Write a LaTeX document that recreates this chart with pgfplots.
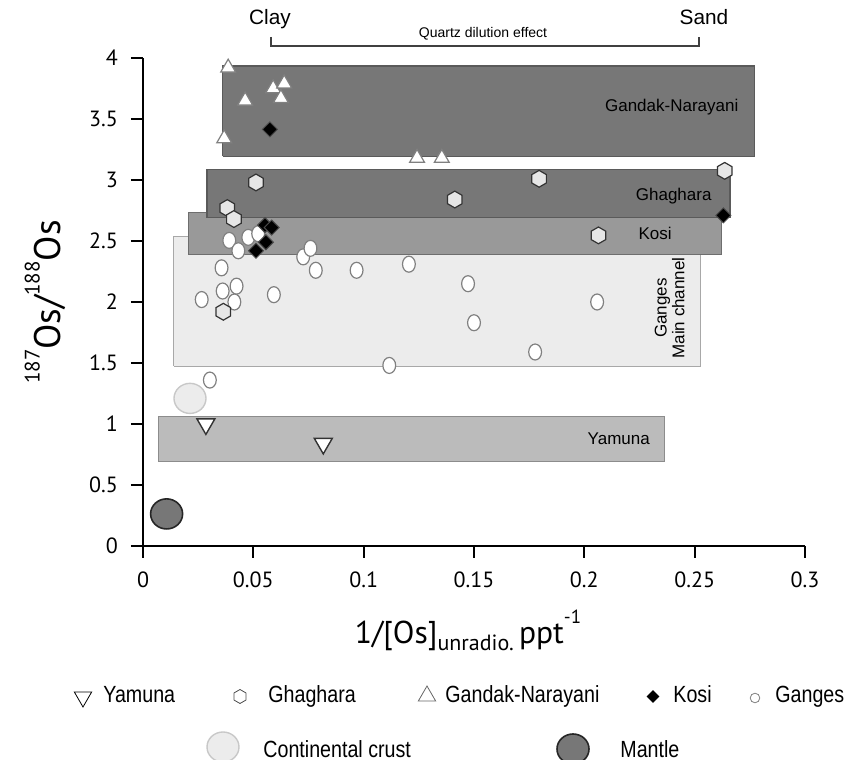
\documentclass[border=0pt]{standalone}
\usepackage{fontspec}
\setmainfont{Liberation Sans}
\newfontfamily\tickfont{PT Sans}
\newfontfamily\narrowfont[FakeStretch=0.84]{Liberation Sans}
\usepackage{pgfplots}
\pgfplotsset{compat=1.18}
\usetikzlibrary{shapes.geometric}

\definecolor{darkbox}{HTML}{777777}
\definecolor{darkedge}{HTML}{5A5A5A}
\definecolor{kosibox}{HTML}{999999}
\definecolor{kosiedge}{HTML}{6E6E6E}
\definecolor{gangesbox}{HTML}{ECECEC}
\definecolor{gangesedge}{HTML}{A8A8A8}
\definecolor{yamunabox}{HTML}{BBBBBB}
\definecolor{yamunaedge}{HTML}{8C8C8C}
\definecolor{hexfill}{HTML}{E6E6E6}
\definecolor{crustfill}{HTML}{ECECEC}
\definecolor{crustedge}{HTML}{C8C8C8}
\definecolor{mantlefill}{HTML}{777777}

\pgfdeclareplotmark{hexagon}{%
  \pgfpathmoveto{\pgfpointpolar{90}{\pgfplotmarksize}}%
  \pgfpathlineto{\pgfpointpolar{150}{\pgfplotmarksize}}%
  \pgfpathlineto{\pgfpointpolar{210}{\pgfplotmarksize}}%
  \pgfpathlineto{\pgfpointpolar{270}{\pgfplotmarksize}}%
  \pgfpathlineto{\pgfpointpolar{330}{\pgfplotmarksize}}%
  \pgfpathlineto{\pgfpointpolar{30}{\pgfplotmarksize}}%
  \pgfpathclose
  \pgfusepathqfillstroke}

\begin{document}
\begin{tikzpicture}
\path[use as bounding box] (-71.5pt,-107pt) rectangle (352pt,273pt);
\begin{axis}[
  at={(0pt,0pt)}, anchor=south west,
  scale only axis, width=331pt, height=244pt,
  xmin=0, xmax=0.3, ymin=0, ymax=4,
  axis lines=left, axis line style={-, line width=1pt, black},
  xtick={0,0.05,0.1,0.15,0.2,0.25,0.3},
  xticklabels={0,0.05,0.1,0.15,0.2,0.25,0.3},
  ytick={0,0.5,1,1.5,2,2.5,3,3.5,4},
  yticklabels={0,0.5,1,1.5,2,2.5,3,3.5,4},
  tick align=outside, major tick length=6pt,
  tick style={line width=1pt, black},
  ticklabel style={font=\tickfont\fontsize{11}{13}\selectfont},
  xticklabel style={yshift=-3.5pt},
  yticklabel style={xshift=-3pt},
  xlabel={1/[Os]\raisebox{-0.45ex}{\fontsize{11}{12}\selectfont unradio.}\,ppt\raisebox{1.25ex}{\fontsize{9.5}{10}\selectfont -1}},
  xlabel style={font=\tickfont\fontsize{15.8}{18}\selectfont, at={(axis description cs:0.491,-0.199)}, anchor=base},
  ylabel={\raisebox{1.1ex}{\fontsize{10.5}{12}\selectfont 187}Os/\raisebox{1.1ex}{\fontsize{10.5}{12}\selectfont 188}Os},
  ylabel style={font=\tickfont\fontsize{18.5}{20}\selectfont, at={(axis description cs:-0.148,0.5)}, anchor=center},
  clip=false,
]
% field boxes
\addplot[fill=gangesbox, draw=gangesedge, line width=0.6pt] coordinates {(0.014,1.473) (0.2527,1.473) (0.2527,2.535) (0.014,2.535) (0.014,1.473)};
\addplot[fill=yamunabox, draw=yamunaedge, line width=0.6pt] coordinates {(0.0072,0.691) (0.2364,0.691) (0.2364,1.062) (0.0072,1.062) (0.0072,0.691)};
\addplot[fill=kosibox, draw=kosiedge, line width=0.6pt] coordinates {(0.0208,2.387) (0.262,2.387) (0.262,2.733) (0.0208,2.733) (0.0208,2.387)};
\addplot[fill=darkbox, draw=darkedge, line width=0.6pt] coordinates {(0.029,2.691) (0.266,2.691) (0.266,3.086) (0.029,3.086) (0.029,2.691)};
\addplot[fill=darkbox, draw=darkedge, line width=0.6pt] coordinates {(0.0362,3.193) (0.277,3.193) (0.277,3.934) (0.0362,3.934) (0.0362,3.193)};

\node[font=\fontsize{8.5}{10}\selectfont] at (axis cs:0.2396,3.597) {Gandak-Narayani};
\node[font=\fontsize{8.5}{10}\selectfont] at (axis cs:0.2405,2.872) {Ghaghara};
\node[font=\fontsize{8.5}{10}\selectfont] at (axis cs:0.2321,2.560) {Kosi};
\node[font=\fontsize{8.5}{10}\selectfont] at (axis cs:0.2156,0.881) {Yamuna};
\node[font=\fontsize{8.5}{8.9}\selectfont, rotate=90, align=center, inner sep=0pt] at (axis cs:0.2387,1.951) {Ganges\\Main channel};

% Ganges
\addplot[only marks, mark=*, mark size=4pt, mark options={xscale=0.8, fill=white, draw=gray, line width=0.6pt}] coordinates {
(0.0266,2.02) (0.0303,1.36) (0.0356,2.28) (0.0361,2.09) (0.0391,2.505)
(0.0414,2.00) (0.0424,2.13) (0.0432,2.42) (0.0477,2.53) (0.0522,2.56)
(0.0593,2.06) (0.0726,2.37) (0.0759,2.44) (0.0783,2.26) (0.0968,2.26)
(0.1116,1.48) (0.1205,2.31) (0.1473,2.15) (0.1500,1.83) (0.1777,1.59)
(0.2058,2.00)};
% Gandak-Narayani
\addplot[only marks, mark=triangle*, mark size=4.3pt, mark options={fill=white, draw=gray, line width=0.6pt}] coordinates {
(0.0386,3.92) (0.0463,3.65) (0.0590,3.75) (0.0640,3.79) (0.0625,3.67)
(0.0368,3.34) (0.1242,3.18) (0.1354,3.18)};
% Ghaghara
\addplot[only marks, mark=hexagon, mark size=4.2pt, mark options={fill=hexfill, draw=black!80, line width=0.6pt}] coordinates {
(0.0512,2.98) (0.0382,2.77) (0.0412,2.68) (0.1413,2.84) (0.0364,1.92)
(0.1795,3.01) (0.2636,3.075) (0.2064,2.546)};
% Kosi
\addplot[only marks, mark=square*, mark size=2.65pt, mark options={rotate=45, fill=black, draw=black!70, line width=0.5pt}] coordinates {
(0.0575,3.415) (0.0553,2.63) (0.0583,2.61) (0.0557,2.49) (0.0512,2.42) (0.2630,2.71)};
% Yamuna
\addplot[only marks, mark=triangle*, mark size=5.2pt, mark options={rotate=180, fill=white, draw=black!80, line width=0.7pt}] coordinates {
(0.0285,1.00) (0.0817,0.84)};
% Continental crust
\addplot[only marks, mark=*, mark size=8pt, mark options={yscale=0.94, fill=crustfill, draw=crustedge, line width=0.7pt}] coordinates {(0.0213,1.21)};
% Mantle
\addplot[only marks, mark=*, mark size=8pt, mark options={yscale=0.94, fill=mantlefill, draw=black!85, line width=0.8pt}] coordinates {(0.0107,0.263)};
\end{axis}

% top annotation
\node[anchor=base, inner sep=0pt, font=\fontsize{10.4}{12}\selectfont] at (63.5pt,260.5pt) {Clay};
\node[anchor=base, inner sep=0pt, font=\fontsize{10.4}{12}\selectfont] at (280.5pt,260.5pt) {Sand};
\draw[line width=0.6pt, black!75] (64pt,254.5pt) -- (64pt,250pt) -- (278pt,250pt) -- (278pt,254.5pt);
\node[anchor=base, inner sep=0pt, font=\fontsize{7}{8}\selectfont] at (170pt,254pt) {Quartz dilution effect};

% legend
\node[regular polygon, regular polygon sides=3, shape border rotate=180, draw=black, line width=0.4pt, fill=white, minimum size=10pt, inner sep=0pt] at (-30pt,-75.5pt) {};
\node[anchor=base west, inner sep=0pt, font=\narrowfont\fontsize{11.7}{13}\selectfont] at (-20pt,-78.5pt) {Yamuna};
\node[regular polygon, regular polygon sides=6, shape border rotate=30, draw=black!70, line width=0.4pt, minimum size=7pt, inner sep=0pt] at (48.5pt,-75.25pt) {};
\node[anchor=base west, inner sep=0pt, font=\narrowfont\fontsize{11.7}{13}\selectfont] at (62.5pt,-78.5pt) {Ghaghara};
\node[regular polygon, regular polygon sides=3, draw=black!60, line width=0.4pt, minimum size=10pt, inner sep=0pt] at (142pt,-75pt) {};
\node[anchor=base west, inner sep=0pt, font=\narrowfont\fontsize{11.7}{13}\selectfont] at (151pt,-78.5pt) {Gandak-Narayani};
\node[diamond, aspect=1, fill=black, minimum size=6.5pt, inner sep=0pt] at (255pt,-75.25pt) {};
\node[anchor=base west, inner sep=0pt, font=\narrowfont\fontsize{11.7}{13}\selectfont] at (265pt,-78.5pt) {Kosi};
\node[circle, draw=black!50, line width=0.4pt, minimum size=4.8pt, inner sep=0pt] at (306pt,-76pt) {};
\node[anchor=base west, inner sep=0pt, font=\narrowfont\fontsize{11.7}{13}\selectfont] at (316pt,-78.5pt) {Ganges};
\node[ellipse, fill=crustfill, draw=crustedge, line width=0.7pt, minimum width=16pt, minimum height=15pt, inner sep=0pt] at (40pt,-100.5pt) {};
\node[anchor=base west, inner sep=0pt, font=\narrowfont\fontsize{11.7}{13}\selectfont] at (60pt,-106pt) {Continental crust};
\node[ellipse, fill=mantlefill, draw=black!85, line width=0.8pt, minimum width=16pt, minimum height=15pt, inner sep=0pt] at (215pt,-101.5pt) {};
\node[anchor=base west, inner sep=0pt, font=\narrowfont\fontsize{11.7}{13}\selectfont] at (238.5pt,-106pt) {Mantle};
\end{tikzpicture}
\end{document}
